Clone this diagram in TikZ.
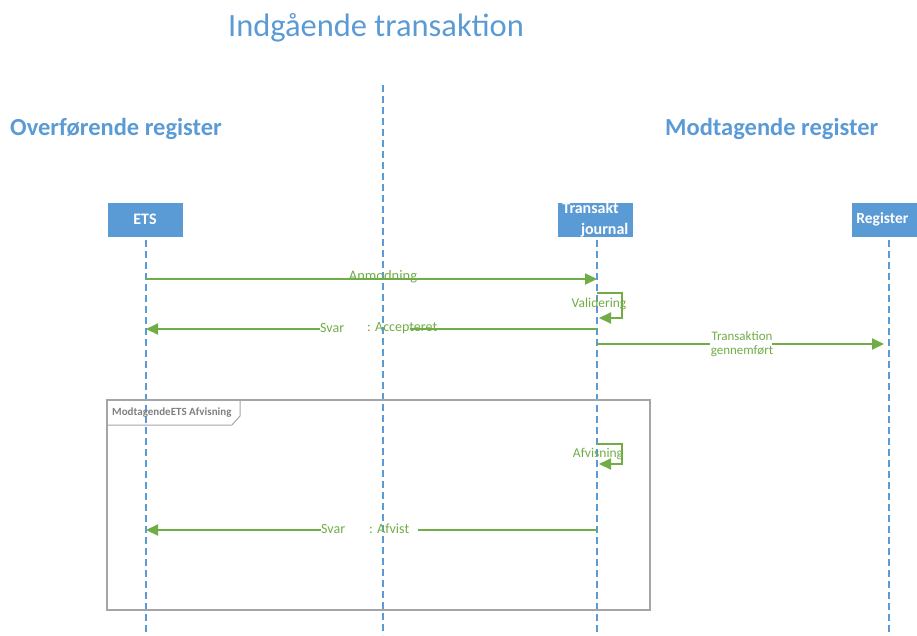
\documentclass[tikz,border=0pt]{standalone}
\usepackage{fontspec}
\setmainfont{Carlito}
\usetikzlibrary{arrows.meta}
\definecolor{lineblue}{HTML}{5B9BD5}
\definecolor{msggreen}{HTML}{70AD47}
\definecolor{framegray}{HTML}{A5A5A5}
\tikzset{
  lifeline/.style={draw=lineblue, line width=1.3pt, dash pattern=on 7pt off 4pt},
  actor/.style={fill=lineblue, draw=white, line width=0.8pt, minimum width=76pt, minimum height=35pt, inner sep=0pt, text=white, font=\bfseries\fontsize{16}{19}\selectfont},
  msg/.style={draw=msggreen, line width=2pt},
  msgarrow/.style={msg, -{Triangle[length=12pt,width=11pt]}},
  msglabel/.style={text=msggreen, font=\fontsize{14}{16}\selectfont, inner sep=0pt},
  heading/.style={text=lineblue, font=\bfseries\fontsize{24.5}{28}\selectfont, anchor=west, inner sep=0pt}
}
\begin{document}
\begin{tikzpicture}[x=1pt, y=-1pt]
  \useasboundingbox (0,0) rectangle (917,635);

  % headings
  \node[text=lineblue, font=\fontsize{32.5}{36}\selectfont, inner sep=0pt] (title) at (376,28) {Indgående transaktion};
  \node[heading] (left) at (10,129) {Overførende register};
  \node[heading] (right) at (665,129) {Modtagende register};

  % divider between the two registers
  \coordinate (divtop) at (383,85);
  \coordinate (divbot) at (383,635);
  \draw[lifeline] (divtop) -- (divbot);

  % actors
  \node[actor] (ets) at (145,219.5) {ETS};
  \node[actor, anchor=west, text width=66pt, inner xsep=5pt, align=left, font=\bfseries\fontsize{16}{21}\selectfont] (jour) at (557,219.5)
    {Transakt\\\makebox[66pt][r]{journal}};
  \node[actor, anchor=west, text width=66pt, inner xsep=5pt, align=left, font=\bfseries\fontsize{15.5}{18}\selectfont] (reg) at (851,219.5) {Register};

  % lifelines
  \coordinate (etsend) at (146,635);
  \coordinate (jourend) at (597,635);
  \coordinate (regend) at (889,635);
  \draw[lifeline] (146,240) -- (etsend);
  \draw[lifeline] (597,240) -- (jourend);
  \draw[lifeline] (889,240) -- (regend);

  % message points on the lifelines
  \coordinate (e1) at (146,279);  \coordinate (j1) at (597,279);
  \coordinate (e2) at (146,329);  \coordinate (j2) at (597,329);
  \coordinate (j3) at (597,344);  \coordinate (r3) at (884,344);
  \coordinate (e4) at (146,530);  \coordinate (j4) at (597,530);

  % Anmodning
  \draw[msgarrow] (e1) -- (j1);
  \node[msglabel, font=\fontsize{14.5}{16}\selectfont] (anm) at (383,277) {Anmodning};

  % Validering (self message)
  \coordinate (v1) at (597,293);
  \coordinate (v2) at (599,318);
  \draw[msgarrow] (v1) -- (622,293) -- (622,318) -- (v2);
  \node[msglabel, font=\fontsize{13.5}{16}\selectfont] (val) at (599,304) {Validering};

  % Svar : Accepteret
  \node[msglabel, anchor=west] (svar1) at (320,328) {Svar};
  \node[msglabel, anchor=west] (acc) at (367,328) {: Accepteret};
  \coordinate (s1) at (410,329);
  \draw[msg] (j2) -- (s1);
  \draw[msgarrow] (svar1.west |- e2) -- (e2);

  % Transaktion gennemfoert
  \node[msglabel, align=center, font=\fontsize{13}{14}\selectfont] (done) at (742,344) {Transaktion\\gennemført};
  \draw[msg] (j3) -- (710,344);
  \draw[msgarrow] (772,344) -- (r3);

  % alternative frame
  \draw[framegray, line width=1.5pt] (107,400) rectangle (650,610);
  \draw[framegray, line width=1pt] (107,425) -- (232,425) -- (240,416) -- (240,400);
  \node[text=gray, font=\bfseries\fontsize{11}{12}\selectfont, anchor=west, inner sep=0pt] (frlbl) at (112,413) {ModtagendeETS Afvisning};

  % Afvisning (self message)
  \coordinate (a1) at (597,444);
  \coordinate (a2) at (599,464);
  \draw[msgarrow] (a1) -- (622,444) -- (622,464) -- (a2);
  \node[msglabel, font=\fontsize{13.5}{16}\selectfont] (afv) at (598,454) {Afvisning};

  % Svar : Afvist
  \node[msglabel, anchor=west] (svar2) at (321,529) {Svar};
  \node[msglabel, anchor=west] (afst) at (369,529) {: Afvist};
  \draw[msg] (j4) -- (418,530);
  \draw[msgarrow] (svar2.west |- e4) -- (e4);
\end{tikzpicture}
\end{document}
